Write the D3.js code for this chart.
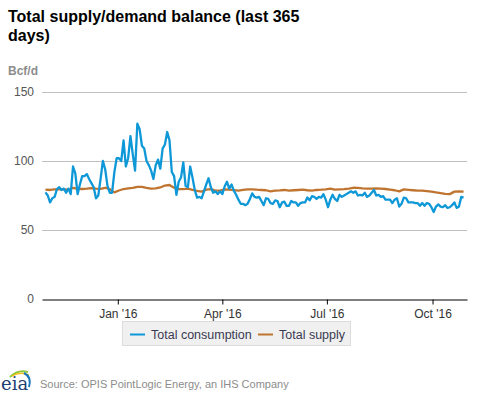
<!DOCTYPE html>
<html>
<head>
<meta charset="utf-8">
<script src="https://cdn.jsdelivr.net/npm/d3@7"></script>
<style>
  body { margin: 0; background: #fff; }
  svg { font-family: "Liberation Sans", Arial, sans-serif; display: block; }
</style>
</head>
<body>
<div id="chart"></div>
<script>
// series: consumption sampled every 2 days, supply every 4 days, from Oct 30 2015
const startDate = '2015-10-30';
const consumptionStep = 2;
const supplyStep = 4;

const consumption = [
  77.3, 75, 70, 73, 74, 79.6, 81, 79, 80, 77, 80, 76, 96, 91, 76, 83, 89, 89, 90.5, 87,
  84, 81, 73, 75, 87, 100, 94, 82, 77, 77, 92, 102, 102, 100, 115, 96, 102, 118, 105, 93,
  127, 123, 111, 109, 100, 97, 93, 87, 97, 101, 94.5, 109, 112, 121, 115, 92, 89, 75.5, 85, 88,
  99, 82, 81, 96, 88, 79, 73.5, 74, 73, 78, 83, 87.5, 81, 77, 78, 76, 78, 76, 81.5, 85,
  80, 83, 78.5, 75.5, 72, 69, 69, 68, 69, 72.5, 76.5, 74, 73.5, 74, 71, 68, 73, 72.5, 69.5, 69,
  71.5, 71, 66.5, 70, 70.5, 67.5, 67.5, 71, 70, 70, 67.5, 69.5, 70, 70, 73.5, 71.5, 74.5, 74, 72.5, 74,
  73.5, 76, 72, 66.5, 72, 75.5, 72.5, 71, 75.5, 74, 75, 76, 77, 78, 77, 78, 75, 75.5, 75, 77,
  74, 75, 77, 79, 75, 75.5, 74, 74.5, 72, 72, 72, 69.5, 72, 73, 67, 69, 73.5, 73, 70, 70,
  70, 69.5, 69.5, 67.5, 69.5, 67.5, 69.5, 69, 66.5, 63, 67, 68.5, 67, 66.5, 68, 66, 66.5, 68, 70, 66,
  67, 74, 73.5
];

const supply = [
  79.2, 79, 79.4, 79.6, 79.5, 79.2, 80.6, 79.8, 79.7, 80, 80.4, 80, 79.8, 80.6, 79.6, 77.3, 78.6, 79.7, 80.2, 80.5,
  81.2, 81.2, 80.5, 80, 80.1, 80.8, 82.2, 82.6, 80.6, 79.6, 79.6, 80, 79.1, 78.3, 77.8, 79.2, 79.6, 78.5, 78.5, 79.4,
  79.2, 78.9, 78.5, 79, 79.4, 79.5, 79.2, 79, 78.8, 78, 78.5, 78.7, 79, 78.6, 78.8, 79, 79.2, 78.8, 78.6, 79,
  79.2, 79.5, 80, 79.2, 79.4, 79.6, 80, 80.6, 80.5, 80.2, 80, 80, 80.1, 80, 79.7, 79.3, 78.8, 78, 79.4, 79.1,
  78.8, 78.5, 78.5, 78.2, 77.8, 77.2, 76.7, 76.2, 76, 77.8, 78, 77.8
];

const yTicks = [0, 50, 100, 150];
const xTicks = ['2016-01-01', '2016-04-01', '2016-07-01', '2016-10-01'];
const seriesNames = ['Total consumption', 'Total supply'];
const seriesColors = ['#0f98d8', '#bf7430'];

const width = 477;
const height = 393;
const margin = { left: 42, right: 10, top: 92, bottom: 94 };

const svg = d3.select('#chart')
  .append('svg')
  .attr('width', width)
  .attr('height', height);

// title
const title = svg.append('text')
  .attr('x', 8)
  .attr('y', 22)
  .style('font-size', '16px')
  .style('font-weight', 'bold')
  .style('fill', '#000');
title.append('tspan').attr('x', 8).text('Total supply/demand balance (last 365');
title.append('tspan').attr('x', 8).attr('dy', 19).text('days)');

svg.append('text')
  .attr('x', 8)
  .attr('y', 75)
  .style('font-size', '12px')
  .style('font-weight', 'bold')
  .style('fill', '#8c8c8c')
  .text('Bcf/d');

const parse = d3.utcParse('%Y-%m-%d');
const start = parse(startDate);

const x = d3.scaleUtc()
  .domain([parse('2015-10-27'), parse('2016-10-31')])
  .range([margin.left, width - margin.right]);

const y = d3.scaleLinear()
  .domain([0, 150])
  .range([height - margin.bottom, margin.top]);

// gridlines
svg.append('g')
  .selectAll('line')
  .data(yTicks.filter(d => d > 0))
  .enter().append('line')
  .attr('x1', x.range()[0])
  .attr('x2', x.range()[1])
  .attr('y1', d => Math.round(y(d)) + 0.5)
  .attr('y2', d => Math.round(y(d)) + 0.5)
  .style('stroke', '#c0c0c0')
  .style('stroke-width', 1);

// y labels
svg.append('g')
  .selectAll('text')
  .data(yTicks)
  .enter().append('text')
  .attr('x', 34)
  .attr('y', d => y(d) + 4)
  .attr('text-anchor', 'end')
  .style('font-size', '12px')
  .style('fill', '#555')
  .text(d => d);

// x axis
const xAxis = d3.axisBottom(x)
  .tickValues(xTicks.map(parse))
  .tickSize(5)
  .tickSizeOuter(0)
  .tickFormat(d3.utcFormat("%b '%y"));

const gx = svg.append('g')
  .attr('transform', `translate(0, ${Math.round(y(0)) + 0.5})`)
  .call(xAxis);
gx.select('.domain').style('stroke', '#000');
gx.selectAll('.tick line').style('stroke', '#000');
gx.selectAll('.tick text')
  .attr('dy', '0.9em')
  .style('font-family', '"Liberation Sans", Arial, sans-serif')
  .style('font-size', '12px')
  .style('fill', '#333');

// lines
const consumptionData = consumption.map((v, i) => ({ date: d3.utcDay.offset(start, i * consumptionStep), value: v }));
const supplyData = supply.map((v, i) => ({ date: d3.utcDay.offset(start, i * supplyStep), value: v }));

const line = d3.line()
  .x(d => x(d.date))
  .y(d => y(d.value));

[supplyData, consumptionData].forEach((data, k) => {
  svg.append('path')
    .datum(data)
    .attr('d', line)
    .style('fill', 'none')
    .style('stroke', k === 0 ? seriesColors[1] : seriesColors[0])
    .style('stroke-width', 2.3)
    .style('stroke-linejoin', 'round');
});

// legend
const legend = svg.append('g');
legend.append('rect')
  .attr('x', 122.5)
  .attr('y', 321.5)
  .attr('width', 228)
  .attr('height', 24)
  .style('fill', '#f0f0f0')
  .style('stroke', '#dcdcdc');

const legendX = [130, 258];
seriesNames.forEach((name, i) => {
  legend.append('line')
    .attr('x1', legendX[i])
    .attr('x2', legendX[i] + 15)
    .attr('y1', 334.5)
    .attr('y2', 334.5)
    .style('stroke', seriesColors[i])
    .style('stroke-width', 2);
  legend.append('text')
    .attr('x', legendX[i] + 21)
    .attr('y', 339)
    .style('font-size', '12.5px')
    .style('fill', '#3a3a50')
    .text(name);
});

// eia logo
const logo = svg.append('g');
logo.append('path')
  .attr('d', 'M10,377 Q18,369 28,372')
  .style('fill', 'none').style('stroke', '#8cc63f').style('stroke-width', 2);
logo.append('path')
  .attr('d', 'M12,376 Q20,371 29,375')
  .style('fill', 'none').style('stroke', '#f2c218').style('stroke-width', 1.3);
logo.append('path')
  .attr('d', 'M24,373 Q32,377 29,387')
  .style('fill', 'none').style('stroke', '#1a75bb').style('stroke-width', 2);
logo.append('text')
  .attr('x', 1)
  .attr('y', 390)
  .style('font-family', '"DejaVu Serif", serif')
  .style('font-size', '18px')
  .style('fill', '#1d3f73')
  .text('eia');

svg.append('text')
  .attr('x', 40)
  .attr('y', 388)
  .style('font-size', '11px')
  .style('fill', '#8c8c8c')
  .text('Source: OPIS PointLogic Energy, an IHS Company');
</script>
</body>
</html>
